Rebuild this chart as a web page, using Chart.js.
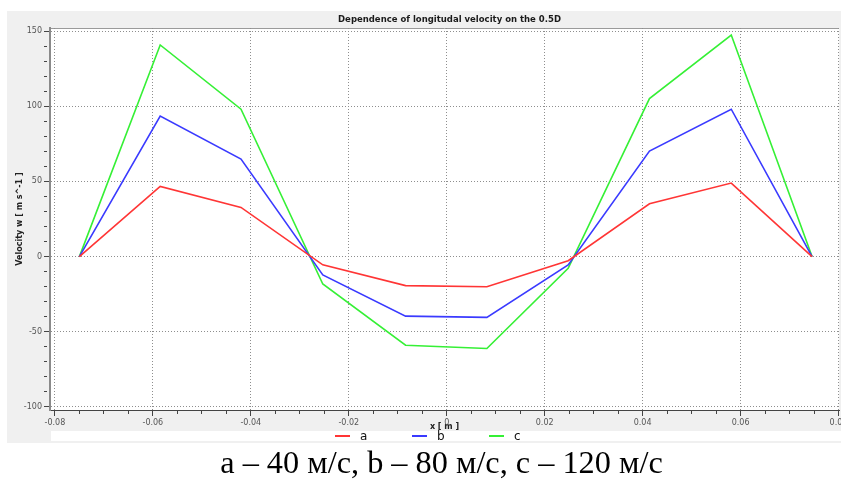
<!DOCTYPE html>
<html>
<head>
<meta charset="utf-8">
<script src="https://cdn.jsdelivr.net/npm/chart.js@4.4.0/dist/chart.umd.min.js"></script>
<style>
  html, body { margin: 0; padding: 0; background: #fff; overflow: hidden; width: 841px; height: 482px; }
  #wrap { position: relative; width: 841px; height: 482px; overflow: hidden; }
  #chart { position: absolute; left: 0; top: 0; }
  #legend { position: absolute; left: 335px; top: 429px; height: 13px; display: flex; align-items: center;
            font: 12px "DejaVu Sans", sans-serif; color: #111; }
  #legend .item { display: flex; align-items: center; width: 77px; }
  #legend .swatch { width: 15px; height: 2px; margin-right: 10px; }
  #caption { position: absolute; left: 0; width: 883px; top: 446px; line-height: 33px; text-align: center;
             font-family: "Liberation Serif", "Times New Roman", serif; font-size: 32.3px; color: #000; white-space: nowrap; }
</style>
</head>
<body>
<div id="wrap">
  <canvas id="chart" width="853" height="482"></canvas>
  <div id="legend"></div>
  <div id="caption">a – 40 м/с, b – 80 м/с, c – 120 м/с</div>
</div>
<script>
// x coordinate of each sample [m]
const xPos = [-0.075, -0.0585, -0.042, -0.0253, -0.0084, 0.0082, 0.0248, 0.0414, 0.0581, 0.0746];

// longitudinal velocity w [m/s] for the three inlet speeds
const velA = [0, 46.7, 32.7, -5.5, -19.3, -20, -2.7, 35.1, 48.9, 0];
const velB = [0, 93.5, 64.9, -12.2, -39.6, -40.4, -5.6, 70.2, 98, 0];
const velC = [0, 140.7, 98, -18.2, -58.9, -61.1, -7.8, 105.1, 147.3, 0];

const seriesNames = ['a', 'b', 'c'];
const seriesColors = ['#ff3535', '#3a3aff', '#35f035'];

// labelled ticks
const xTickLabels = [-0.08, -0.06, -0.04, -0.02, 0, 0.02, 0.04, 0.06, 0.08];
const yTickLabels = [-100, -50, 0, 50, 100, 150];

const heading = 'Dependence of longitudal velocity on the 0.5D';
const uiFont = '"DejaVu Sans", Verdana, sans-serif';

const isXMajor = v => xTickLabels.some(t => Math.abs(t - v) < 1e-7);
const isYMajor = v => yTickLabels.some(t => Math.abs(t - v) < 1e-7);

function toPoints(vals) {
  return vals.map((v, i) => ({ x: xPos[i], y: v }));
}

// grey panel, white plot area, legend strip and heading
const panelPlugin = {
  id: 'panel',
  beforeDraw(chart) {
    const { ctx, chartArea: a } = chart;
    ctx.save();
    ctx.fillStyle = '#f0f0f0';
    ctx.fillRect(7, 11, 846, 432);
    ctx.fillStyle = '#ffffff';
    ctx.fillRect(a.left, a.top, a.right - a.left, a.bottom - a.top);
    ctx.fillRect(51, 431, 802, 10);
    ctx.strokeStyle = '#9a9a9a';
    ctx.lineWidth = 1;
    ctx.beginPath();
    ctx.moveTo(a.left, a.top + 0.5);
    ctx.lineTo(a.right, a.top + 0.5);
    ctx.stroke();
    ctx.fillStyle = '#1a1a1a';
    ctx.font = 'bold 8.5px ' + uiFont;
    ctx.textAlign = 'center';
    ctx.textBaseline = 'middle';
    ctx.fillText(heading, (a.left + a.right) / 2 + 5, 20);
    ctx.restore();
  }
};

const ctx = document.getElementById('chart').getContext('2d');
const chart = new Chart(ctx, {
  type: 'line',
  data: {
    datasets: [velA, velB, velC].map((vals, i) => ({
      label: seriesNames[i],
      data: toPoints(vals),
      borderColor: seriesColors[i],
      backgroundColor: seriesColors[i],
      borderWidth: 1.6,
      pointRadius: 0,
      tension: 0
    }))
  },
  options: {
    responsive: false,
    animation: false,
    layout: { padding: { left: 7, top: 28, right: 14, bottom: 50 } },
    plugins: {
      legend: { display: false },
      tooltip: { enabled: false }
    },
    scales: {
      x: {
        type: 'linear',
        min: -0.081,
        max: 0.0801,
        afterFit: s => { s.height = 22; },
        ticks: {
          stepSize: 0.005,
          includeBounds: false,
          autoSkip: false,
          maxRotation: 0,
          padding: 2,
          color: '#555',
          font: { family: uiFont, size: 8 },
          callback: v => isXMajor(v) ? (Math.abs(v) < 1e-9 ? '0' : v.toFixed(2)) : ''
        },
        grid: {
          color: c => (c.tick && isXMajor(c.tick.value)) ? '#8e8e8e' : 'rgba(0,0,0,0)',
          lineWidth: 1,
          tickLength: 6,
          tickColor: '#444',
          tickBorderDash: c => (c.tick && isXMajor(c.tick.value)) ? [] : [3, 10]
        },
        border: { color: '#444', width: 1, dash: [1, 2] },
        title: {
          display: true,
          text: 'x [ m ]',
          color: '#222',
          font: { family: uiFont, size: 8, weight: 'bold' },
          padding: { top: 0, bottom: 0 }
        }
      },
      y: {
        min: -102,
        max: 152,
        afterFit: s => { s.width = 43; },
        ticks: {
          stepSize: 10,
          includeBounds: false,
          autoSkip: false,
          padding: 2,
          color: '#555',
          font: { family: uiFont, size: 8 },
          callback: v => isYMajor(v) ? String(v) : ''
        },
        grid: {
          color: c => (c.tick && isYMajor(c.tick.value)) ? '#8e8e8e' : 'rgba(0,0,0,0)',
          lineWidth: 1,
          tickLength: 6,
          tickColor: '#444',
          tickBorderDash: c => (c.tick && isYMajor(c.tick.value)) ? [] : [3, 10]
        },
        border: { color: '#8a8a8a', width: 2, dash: [1, 2] },
        title: {
          display: true,
          text: 'Velocity w [ m s^-1 ]',
          color: '#222',
          font: { family: uiFont, size: 8, weight: 'bold' },
          padding: { top: 8, bottom: 0 }
        }
      }
    }
  },
  plugins: [panelPlugin]
});

// legend row built from the datasets
const legendBox = document.getElementById('legend');
chart.data.datasets.forEach(ds => {
  const item = document.createElement('div');
  item.className = 'item';
  const sw = document.createElement('span');
  sw.className = 'swatch';
  sw.style.background = ds.borderColor;
  const txt = document.createElement('span');
  txt.textContent = ds.label;
  item.appendChild(sw);
  item.appendChild(txt);
  legendBox.appendChild(item);
});
</script>
</body>
</html>
